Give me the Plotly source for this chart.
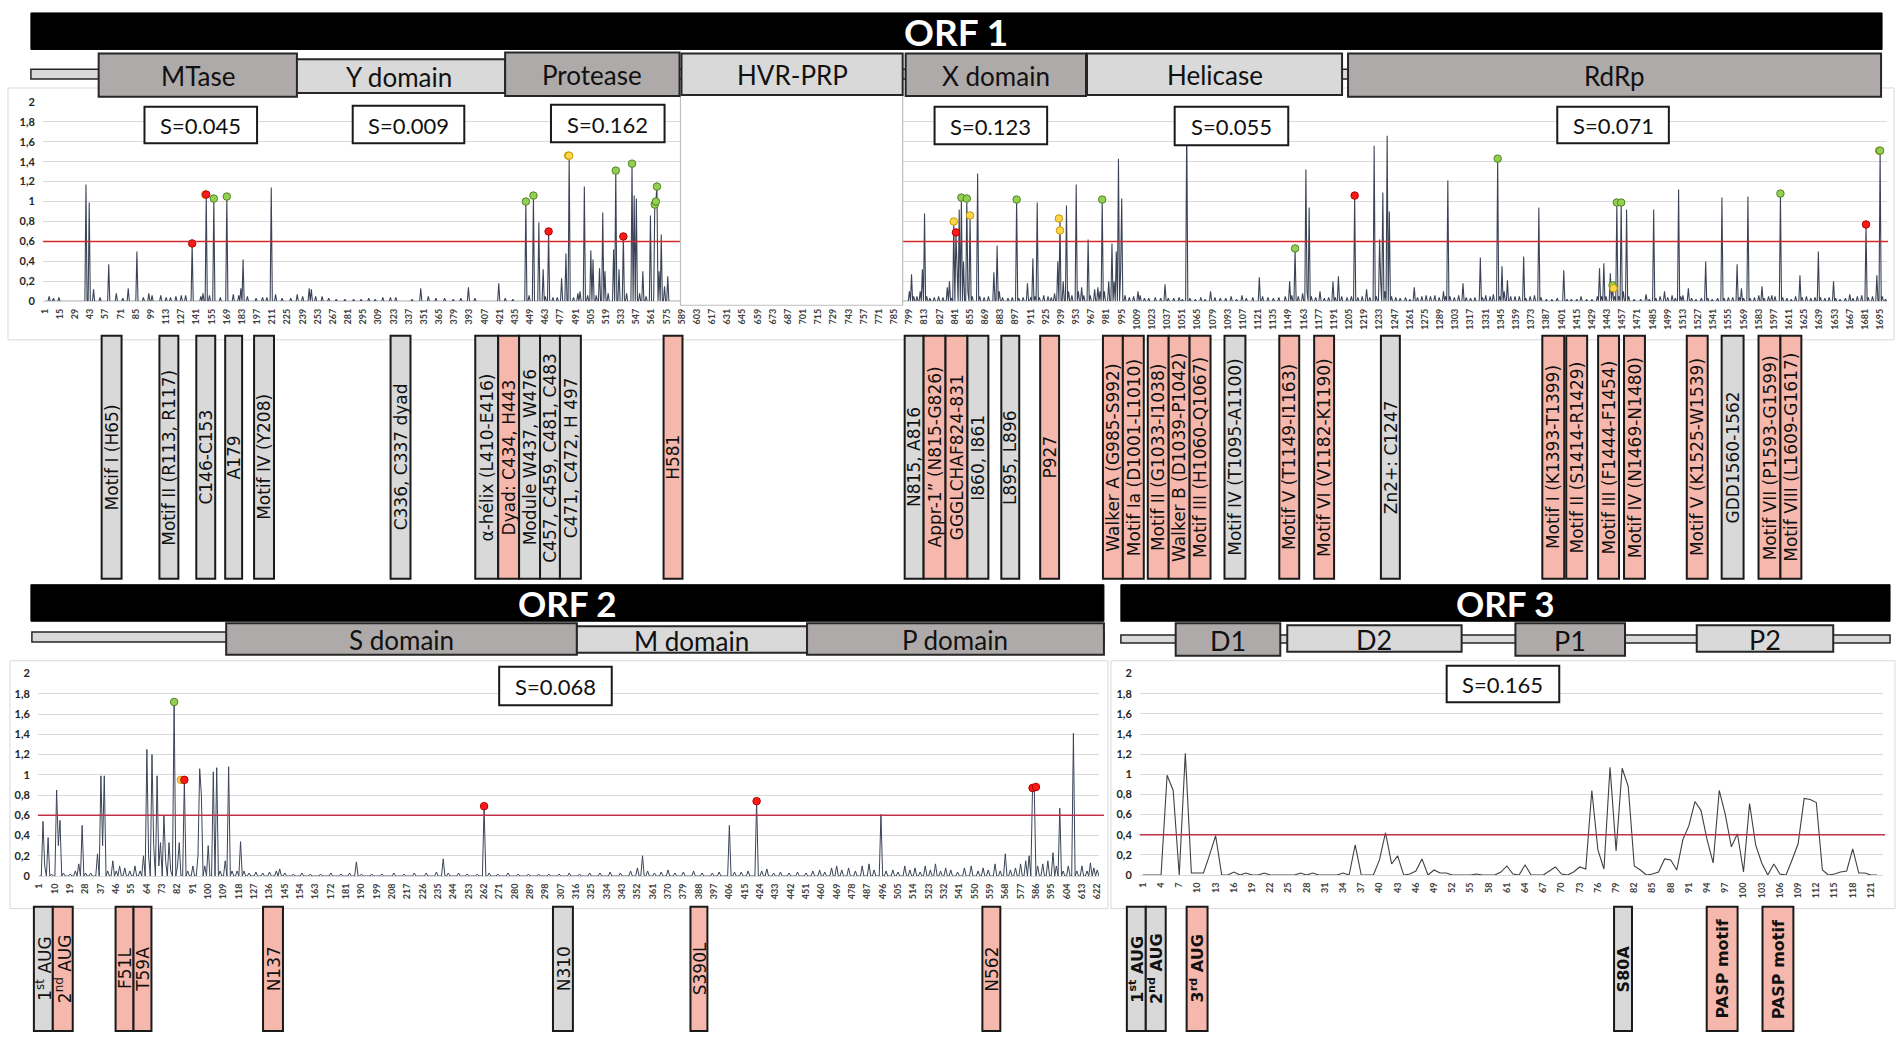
import plotly.graph_objects as go

# ======================= DATA =======================
# ORF1 : residue positions of visible peaks and their heights (rest of the profile ~0)
orf1_len = 1701
orf1_peak_pos = [5, 9, 14, 39, 42, 46, 52, 60, 67, 73, 78, 86, 92, 97, 100, 108, 113, 117, 122, 127, 131, 137,
                 145, 147, 150, 153, 157, 163, 169, 175, 180, 182, 184, 188, 196, 202, 206, 210, 214, 220, 228,
                 234, 239, 245, 247, 251, 257, 263, 270, 278, 286, 293, 300, 306, 313, 320, 325, 340, 348, 355,
                 362, 370, 378, 385, 392, 398, 420, 426, 433,
                 445, 448, 452, 457, 461, 463, 466, 470, 474, 478, 482, 485, 489, 493, 495, 499, 502, 505, 507,
                 510, 513, 516, 518, 521, 526, 528, 531, 535, 538, 543, 545, 547, 550, 553, 556, 560, 564, 565,
                 566, 568, 570, 573, 576,
                 799, 801, 803, 806, 809, 811, 813, 815, 818, 822, 826, 830, 834, 836, 838, 840, 842, 843, 845,
                 847, 849, 852, 853, 855, 857, 862, 864, 868, 872, 877, 880, 882, 885, 890, 894, 898, 900, 904,
                 908, 911, 913, 915, 917, 919, 923, 927, 930, 933, 936, 938, 941, 944, 946, 949, 953, 955, 958,
                 960, 964, 966, 970, 973, 975, 977, 979, 983, 986, 988, 990, 992, 994, 995, 998, 1002, 1006,
                 1010, 1012, 1016, 1020, 1026, 1031, 1035, 1038, 1043, 1048, 1051, 1055, 1058, 1063, 1068,
                 1072, 1077, 1081, 1086, 1091, 1096, 1101, 1106, 1110, 1116, 1122, 1125, 1130, 1135, 1140,
                 1146, 1150, 1152, 1155, 1158, 1162, 1165, 1166, 1168, 1170, 1174, 1178, 1182, 1186, 1190,
                 1192, 1195, 1198, 1203, 1207, 1210, 1213, 1217, 1221, 1224, 1228, 1230, 1233, 1234, 1236,
                 1238, 1240, 1242, 1244, 1248, 1252, 1257, 1261, 1265, 1268, 1272, 1276, 1280, 1284, 1288,
                 1292, 1294, 1296, 1298, 1302, 1306, 1310, 1313, 1317, 1321, 1326, 1328, 1331, 1335, 1338,
                 1342, 1344, 1346, 1348, 1351, 1354, 1358, 1362, 1366, 1368, 1372, 1376, 1380, 1382, 1387,
                 1392, 1397, 1403, 1406, 1410, 1415, 1419, 1424, 1429, 1434, 1436, 1438, 1440, 1442, 1446,
                 1448, 1450, 1452, 1454, 1456, 1458, 1461, 1463, 1468, 1474, 1479, 1482, 1486, 1488, 1492,
                 1496, 1499, 1503, 1506, 1509, 1511, 1513, 1518, 1521, 1525, 1530, 1534, 1536, 1540, 1545,
                 1549, 1551, 1555, 1559, 1563, 1565, 1567, 1569, 1573, 1575, 1579, 1583, 1586, 1588, 1592,
                 1595, 1598, 1603, 1605, 1609, 1613, 1617, 1621, 1623, 1627, 1631, 1635, 1638, 1640, 1644,
                 1648, 1652, 1654, 1658, 1663, 1667, 1670, 1674, 1678, 1682, 1684, 1688, 1692, 1695, 1697, 1700]
orf1_peak_val = [0.05, 0.03, 0.04, 1.17, 0.99, 0.12, 0.04, 0.37, 0.08, 0.03, 0.13, 0.50, 0.04, 0.08, 0.06, 0.06,
                 0.04, 0.04, 0.05, 0.06, 0.06, 0.58,
                 0.05, 0.08, 1.07, 0.06, 1.03, 0.04, 1.05, 0.07, 0.06, 0.13, 0.42, 0.05, 0.03, 0.04, 0.04, 1.14,
                 0.07, 0.03, 0.03, 0.07, 0.05, 0.13, 0.12, 0.05, 0.05, 0.03, 0.02, 0.02, 0.02, 0.02, 0.03, 0.02,
                 0.04, 0.04, 0.04, 0.02, 0.13, 0.05, 0.03, 0.03, 0.02, 0.03, 0.14, 0.03, 0.18, 0.03, 0.02,
                 1.00, 0.06, 1.06, 0.79, 0.32, 0.05, 0.70, 0.04, 0.04, 0.23, 0.48, 1.46, 0.04, 0.08, 0.10, 1.15,
                 0.06, 0.51, 0.42, 0.06, 0.33, 0.89, 0.30, 0.08, 0.52, 1.31, 0.32, 0.65, 0.08, 1.38, 1.06, 1.03,
                 0.08, 0.30, 0.05, 0.86, 0.97, 1.00, 1.15, 0.30, 0.67, 0.15, 0.25,
                 0.10, 0.27, 0.05, 0.05, 0.10, 0.32, 0.88, 0.05, 0.03, 0.04, 0.05, 0.04, 0.14, 0.20, 0.03, 0.80,
                 0.69, 0.35, 0.92, 1.04, 0.40, 1.03, 0.10, 0.86, 0.05, 1.28, 0.05, 0.04, 0.05, 0.29, 0.56, 0.10,
                 0.04, 0.03, 0.04, 1.02, 0.03, 0.04, 0.18, 0.04, 0.43, 0.05, 0.99, 0.04, 0.06, 0.05, 0.04, 0.08,
                 0.40, 0.83, 0.20, 0.96, 0.10, 0.06, 1.17, 0.10, 0.14, 0.06, 0.62, 0.06, 0.12, 0.14, 0.10, 1.02,
                 0.10, 0.20, 0.58, 0.20, 0.50, 1.43, 0.30, 1.03, 0.06, 0.04, 0.05, 0.10, 0.06, 0.03, 0.03, 0.04,
                 0.03, 0.17, 0.03, 0.03, 0.04, 0.02, 1.82, 0.03, 0.02, 0.04, 0.02, 0.10, 0.04, 0.03, 0.03, 0.05,
                 0.02, 0.06, 0.03, 0.04, 0.24, 0.05, 0.04, 0.03, 0.04, 0.05, 0.20, 0.06, 0.53, 0.05, 0.08, 1.32,
                 0.10, 0.94, 0.05, 0.04, 0.10, 0.03, 0.04, 0.20, 0.04, 0.25, 0.05, 0.04, 0.05, 1.06, 0.04, 0.05,
                 0.12, 0.04, 1.56, 0.05, 0.62, 0.20, 1.09, 0.10, 1.66, 0.90, 0.05, 0.04, 0.03, 0.04, 0.02, 0.14,
                 0.04, 0.05, 0.06, 0.05, 0.06, 0.04, 0.10, 0.05, 1.21, 0.05, 0.04, 0.06, 0.18, 0.04, 0.03, 0.04,
                 0.44, 0.04, 0.06, 0.05, 0.07, 1.43, 0.05, 0.35, 0.10, 0.21, 0.05, 0.05, 0.05, 0.45, 0.03, 0.05,
                 0.06, 0.94, 0.04, 0.02, 0.02, 0.03, 0.31, 0.02, 0.02, 0.02, 0.05, 0.02, 0.02, 0.05, 0.33, 0.05,
                 0.38, 0.05, 0.28, 0.16, 0.05, 0.99, 0.05, 0.99, 0.10, 0.92, 0.05, 0.02, 0.02, 0.07, 0.02, 0.92,
                 0.03, 0.05, 0.10, 0.04, 0.06, 0.03, 1.12, 0.05, 0.06, 0.13, 0.03, 0.02, 0.03, 0.40, 0.03, 0.02,
                 0.03, 1.04, 0.03, 0.04, 0.04, 0.37, 0.04, 0.13, 0.03, 1.05, 0.03, 0.04, 0.06, 0.15, 0.03, 0.05,
                 0.06, 0.05, 1.08, 0.04, 0.03, 0.02, 0.05, 0.26, 0.04, 0.05, 0.03, 0.04, 0.50, 0.04, 0.03, 0.04,
                 0.20, 0.03, 0.02, 0.03, 0.07, 0.03, 0.05, 0.06, 0.77, 0.04, 0.05, 0.26, 1.51, 0.05, 0.02]
orf1_ticks = list(range(1, 1696, 14))
orf1_mk_pos = [137, 149, 150, 157, 169, 445, 452, 466, 484, 485, 528, 535, 543, 564, 565, 566, 840, 842, 847,
               852, 855, 898, 937, 938, 977, 1054, 1055, 1155, 1210, 1342, 1448, 1449, 1452, 1456, 1603, 1682,
               1694, 1695]
orf1_mk_val = [0.58, 1.07, 1.07, 1.03, 1.05, 1.00, 1.06, 0.70, 1.46, 1.46, 1.31, 0.65, 1.38, 0.97, 1.00, 1.15,
               0.80, 0.69, 1.04, 1.03, 0.86, 1.02, 0.83, 0.71, 1.02, 1.82, 1.82, 0.53, 1.06, 1.43, 0.16, 0.13,
               0.99, 0.99, 1.08, 0.77, 1.51, 1.51]
orf1_mk_kind = ['r', 'y', 'r', 'g', 'g', 'g', 'g', 'r', 'y', 'y', 'g', 'r', 'g', 'g', 'g', 'g', 'y', 'r', 'g',
                'g', 'y', 'g', 'y', 'y', 'g', 'r', 'y', 'g', 'r', 'g', 'g', 'y', 'g', 'g', 'g', 'r', 'y', 'g']
orf1_threshold = 0.6
orf1_domains = ["MTase", "Y domain", "Protease", "HVR-PRP", "X domain", "Helicase", "RdRp"]
orf1_domain_kind = ['d', 'l', 'd', 'l', 'd', 'l', 'd']
orf1_S = ["S=0.045", "S=0.009", "S=0.162", "S=0.123", "S=0.055", "S=0.071"]
orf1_labels = ["Motif I (H65)", "Motif II (R113, R117)", "C146-C153", "A179", "Motif IV (Y208)",
               "C336, C337 dyad", "α-hélix (L410-E416)", "Dyad: C434, H443", "Module W437, W476",
               "C457, C459, C481, C483", "C471, C472, H 497", "H581",
               "N815, A816", "Appr-1” (N815-G826)", "GGGLCHAF824-831", "I860, I861", "L895, L896", "P927",
               "Walker A (G985-S992)", "Motif Ia (D1001-L1010)", "Motif II (G1033-I1038)",
               "Walker B (D1039-P1042)", "Motif III (H1060-Q1067)", "Motif IV (T1095-A1100)",
               "Motif V (T1149-I1163)", "Motif VI (V1182-K1190)", "Zn2+: C1247",
               "Motif I (K1393-T1399)", "Motif II (S1414-R1429)", "Motif III (F1444-F1454)",
               "Motif IV (N1469-N1480)", "Motif V (K1525-W1539)", "GDD1560-1562",
               "Motif VII (P1593-G1599)", "Motif VIII (L1609-G1617)"]
orf1_label_kind = ['g', 'g', 'g', 'g', 'g', 'g', 'g', 's', 'g', 'g', 'g', 's',
                   'g', 's', 's', 'g', 'g', 's', 's', 's', 's', 's', 's', 'g', 's', 's', 'g',
                   's', 's', 's', 's', 's', 'g', 's', 's']

# ORF2
orf2_len = 623
orf2_peak_pos = [3, 4, 6, 8, 11, 12, 13, 15, 19, 22, 24, 26, 28, 31, 35, 37, 38, 39, 41, 44, 46, 48, 51, 54, 57,
                 60, 62, 64, 65, 67, 68, 70, 71, 72, 74, 75, 77, 78, 80, 82, 83, 86, 88, 91, 94, 95, 96, 98,
                 100, 103, 105, 107, 110, 112, 114, 117, 119, 121, 124, 128, 132, 136, 140, 142, 145, 150,
                 155, 160, 166, 172, 178, 183, 187, 190, 196, 202, 209, 215, 221, 228, 234, 238, 241, 247,
                 252, 258, 262, 265, 270, 276, 282, 288, 294, 300, 306, 312, 318, 324, 330, 336, 342, 348,
                 352, 355, 358, 362, 366, 370, 374, 379, 385, 390, 396, 400, 406, 409, 413, 417, 422, 425,
                 428, 432, 436, 441, 446, 451, 455, 459, 462, 466, 469, 472, 476, 480, 484, 488, 491, 495,
                 498, 502, 505, 509, 512, 515, 518, 521, 524, 527, 530, 533, 536, 540, 544, 548, 552, 555,
                 558, 562, 565, 568, 571, 574, 577, 580, 582, 584, 585, 587, 590, 593, 596, 598, 600, 602,
                 605, 608, 610, 613, 616, 618, 620, 622]
orf2_peak_val = [0.54, 0.10, 0.38, 0.02, 0.85, 0.30, 0.55, 0.03, 0.02, 0.05, 0.12, 0.50, 0.03, 0.03, 0.22, 0.99,
                 0.30, 0.99, 0.05, 0.15, 0.05, 0.10, 0.08, 0.05, 0.10, 0.05, 0.20, 1.25, 0.20, 1.20, 0.30,
                 0.99, 0.10, 0.33, 0.60, 0.15, 0.33, 0.05, 1.72, 0.10, 0.33, 0.95, 0.05, 0.10, 0.20, 1.06,
                 0.80, 0.10, 0.30, 1.03, 1.07, 0.05, 0.15, 1.08, 0.05, 0.05, 0.34, 0.05, 0.03, 0.04, 0.03,
                 0.04, 0.05, 0.07, 0.03, 0.02, 0.03, 0.02, 0.02, 0.03, 0.02, 0.03, 0.14, 0.02, 0.02, 0.02,
                 0.03, 0.02, 0.03, 0.03, 0.04, 0.17, 0.03, 0.03, 0.02, 0.02, 0.69, 0.03, 0.02, 0.03, 0.02,
                 0.02, 0.02, 0.02, 0.02, 0.03, 0.02, 0.03, 0.03, 0.04, 0.03, 0.05, 0.08, 0.20, 0.05, 0.03,
                 0.04, 0.06, 0.03, 0.04, 0.05, 0.03, 0.03, 0.04, 0.50, 0.04, 0.04, 0.05, 0.74, 0.05, 0.07,
                 0.03, 0.04, 0.03, 0.04, 0.03, 0.05, 0.06, 0.04, 0.08, 0.10, 0.06, 0.08, 0.05, 0.10, 0.12,
                 0.06, 0.61, 0.05, 0.06, 0.04, 0.10, 0.06, 0.08, 0.04, 0.10, 0.06, 0.12, 0.05, 0.08, 0.06,
                 0.04, 0.08, 0.10, 0.05, 0.08, 0.06, 0.12, 0.05, 0.22, 0.06, 0.08, 0.12, 0.15, 0.20, 0.87,
                 0.88, 0.10, 0.12, 0.15, 0.23, 0.10, 0.67, 0.05, 0.10, 1.41, 0.05, 0.10, 0.05, 0.13, 0.08,
                 0.06]
orf2_ticks = list(range(1, 623, 9))
orf2_mk_pos = [80, 84, 86, 262, 422, 584, 586]
orf2_mk_val = [1.72, 0.95, 0.95, 0.69, 0.74, 0.87, 0.88]
orf2_mk_kind = ['g', 'y', 'r', 'r', 'r', 'r', 'r']
orf2_threshold = 0.6
orf2_domains = ["S domain", "M domain", "P domain"]
orf2_domain_kind = ['d', 'l', 'd']
orf2_S = "S=0.068"
orf2_labels = ["1<sup>st</sup> AUG", "2<sup>nd</sup> AUG", "F51L", "T59A", "N137", "N310", "S390L", "N562"]
orf2_label_kind = ['g', 's', 's', 's', 's', 'g', 's', 's']

# ORF3 : every residue
orf3_pos = list(range(1, 123))
orf3_val = [0, 0, 0, 0, 0.99, 0.84, 0, 1.21, 0.02, 0.02, 0.02, 0.20, 0.39, 0, 0, 0.03, 0, 0.02, 0, 0,
            0.02, 0, 0, 0, 0, 0, 0.02, 0, 0.02, 0, 0, 0, 0, 0.02, 0, 0.30, 0, 0, 0, 0.15,
            0.42, 0.11, 0.19, 0, 0.01, 0.04, 0.16, 0, 0.05, 0.02, 0.02, 0, 0, 0, 0, 0.01, 0, 0, 0, 0.03,
            0.09, 0.01, 0, 0.10, 0, 0, 0, 0.04, 0.08, 0.01, 0, 0.03, 0.08, 0.06, 0.84, 0.25, 0.06, 1.07, 0.24, 1.06,
            0.88, 0.09, 0.05, 0, 0.01, 0.03, 0.16, 0.15, 0.05, 0.35, 0.49, 0.73, 0.64, 0.35, 0.12, 0.84, 0.60, 0.28, 0.41, 0.03,
            0.71, 0.30, 0.12, 0, 0.11, 0.01, 0, 0.15, 0.31, 0.76, 0.75, 0.72, 0.05, 0, 0.01, 0.03, 0.04, 0.26, 0.02, 0.02,
            0, 0]
orf3_ticks = list(range(1, 122, 3))
orf3_threshold = 0.4
orf3_domains = ["D1", "D2", "P1", "P2"]
orf3_domain_kind = ['d', 'l', 'd', 'l']
orf3_S = "S=0.165"
orf3_labels = ["1<sup>st</sup> AUG", "2<sup>nd</sup> AUG", "3<sup>rd</sup> AUG", "S80A", "PASP motif", "PASP motif"]
orf3_label_kind = ['g', 'g', 's', 'g', 's', 's']

y_ticks = [0, 0.2, 0.4, 0.6, 0.8, 1.0, 1.2, 1.4, 1.6, 1.8, 2.0]
y_ticktext = ["0", "0,2", "0,4", "0,6", "0,8", "1", "1,2", "1,4", "1,6", "1,8", "2"]

# ======================= LAYOUT / STYLE =======================
W, H = 1902, 1043


def px(x):
    return x / W


def py(y):
    return 1 - y / H


FILL = {'d': '#aeaaaa', 'l': '#d9d9d9', 'g': '#d9d9d9', 's': '#f6b8ac'}
MK_FILL = {'g': '#92d050', 'y': '#ffd54a', 'r': '#ff1a1a'}
MK_LINE = {'g': '#557f2a', 'y': '#c49a00', 'r': '#b00000'}
LINE_COL = '#3b4457'
GRID = '#d9d9d9'
TXT = '#111111'
FONT = 'Lato, Open Sans, sans-serif'
LFONT = 'DejaVu Sans, Verdana, sans-serif'

shapes = []
annots = []


def rect(x0, y0, x1, y1, fill, line='#262626', lw=2, layer='above'):
    shapes.append(dict(type='rect', xref='paper', yref='paper', x0=px(x0), x1=px(x1), y0=py(y1), y1=py(y0),
                       fillcolor=fill, line=dict(color=line, width=lw), layer=layer))


def text(x, y, s, size, color=TXT, bold=False, family=FONT, angle=0):
    annots.append(dict(xref='paper', yref='paper', x=px(x), y=py(y), text=s, showarrow=False,
                       xanchor='center', yanchor='middle', textangle=angle,
                       font=dict(family=family, size=size, color=color, weight='bold' if bold else 'normal')))


fig = go.Figure()

# ---- panels (light frames) ----
rect(4, 82, 1897, 337, 'rgba(0,0,0,0)', line='#d9d9d9', lw=1, layer='below')
rect(6, 662, 1108, 913, 'rgba(0,0,0,0)', line='#d9d9d9', lw=1, layer='below')
rect(1111, 662, 1898, 913, 'rgba(0,0,0,0)', line='#d9d9d9', lw=1, layer='below')

# ---- traces ----
orf1_x = list(range(1, orf1_len + 1))
orf1_y = [0.0] * orf1_len
for p, v in zip(orf1_peak_pos, orf1_peak_val):
    orf1_y[p - 1] = v
orf2_x = list(range(1, orf2_len + 1))
orf2_y = [0.0] * orf2_len
for p, v in zip(orf2_peak_pos, orf2_peak_val):
    orf2_y[p - 1] = v

fig.add_trace(go.Scatter(x=orf1_x, y=orf1_y, mode='lines', line=dict(color=LINE_COL, width=1.1),
                         xaxis='x', yaxis='y', hoverinfo='skip', showlegend=False))
fig.add_trace(go.Scatter(x=orf1_mk_pos, y=orf1_mk_val, mode='markers',
                         marker=dict(size=7.5, color=[MK_FILL[k] for k in orf1_mk_kind],
                                     line=dict(color=[MK_LINE[k] for k in orf1_mk_kind], width=1)),
                         xaxis='x', yaxis='y', hoverinfo='skip', showlegend=False))
fig.add_trace(go.Scatter(x=orf2_x, y=orf2_y, mode='lines', line=dict(color=LINE_COL, width=1.0),
                         xaxis='x2', yaxis='y2', hoverinfo='skip', showlegend=False))
fig.add_trace(go.Scatter(x=orf2_mk_pos, y=orf2_mk_val, mode='markers',
                         marker=dict(size=7.5, color=[MK_FILL[k] for k in orf2_mk_kind],
                                     line=dict(color=[MK_LINE[k] for k in orf2_mk_kind], width=1)),
                         xaxis='x2', yaxis='y2', hoverinfo='skip', showlegend=False))
fig.add_trace(go.Scatter(x=orf3_pos, y=orf3_val, mode='lines', line=dict(color='#404040', width=1.1),
                         xaxis='x3', yaxis='y3', hoverinfo='skip', showlegend=False))


def xaxis(dom, rng, ticks, anchor):
    return dict(domain=[px(dom[0]), px(dom[1])], range=rng, anchor=anchor, tickmode='array',
                tickvals=ticks, ticktext=[str(t) for t in ticks], tickangle=-90,
                tickfont=dict(family=FONT, size=9, color='#404040', weight='bold'),
                showgrid=False, zeroline=False, showline=True, linecolor=GRID, linewidth=1,
                ticks='', ticklabelstandoff=3, fixedrange=True)


def yaxis(dom, anchor):
    return dict(domain=[py(dom[1]), py(dom[0])], range=[0, 2.0], anchor=anchor, tickmode='array',
                tickvals=y_ticks, ticktext=y_ticktext, showgrid=True, gridcolor=GRID, gridwidth=1,
                zeroline=False, showline=False, ticks='',
                tickfont=dict(family=FONT, size=11, color='#262626', weight='bold'),
                ticklabelstandoff=7, fixedrange=True)


# ---- threshold lines ----
shapes.append(dict(type='line', xref='paper', yref='y', x0=px(39), x1=px(1891), y0=orf1_threshold,
                   y1=orf1_threshold, line=dict(color='#d42a2a', width=1.4), layer='above'))
shapes.append(dict(type='line', xref='paper', yref='y2', x0=px(34), x1=px(1104), y0=orf2_threshold,
                   y1=orf2_threshold, line=dict(color='#c0304a', width=1.4), layer='above'))
shapes.append(dict(type='line', xref='paper', yref='y3', x0=px(1140), x1=px(1888), y0=orf3_threshold,
                   y1=orf3_threshold, line=dict(color='#c0304a', width=1.4), layer='above'))

# HVR-PRP blank region in the ORF1 chart
rect(679, 89, 902, 302, 'white', line='#bfbfbf', lw=1.2)

# ---- black title bars ----
rect(27, 6, 1885, 43, 'black', line='black', lw=1)
text(956, 25, 'ORF 1', 37, color='white', bold=True)
rect(27, 585, 1104, 622, 'black', line='black', lw=1)
text(566, 604, 'ORF 2', 35, color='white', bold=True)
rect(1121, 585, 1893, 622, 'black', line='black', lw=1)
text(1507, 604, 'ORF 3', 35, color='white', bold=True)

# ---- domain rows ----
rect(27, 63, 1884, 73, '#d9d9d9', lw=1.5)
orf1_dom_box = [(95, 47, 294, 91), (289, 53, 503, 87), (503, 46, 678, 90), (680, 47, 902, 89),
                (905, 47, 1086, 90), (1087, 47, 1343, 89), (1349, 47, 1884, 91)]
order = [1, 0, 2, 3, 4, 5, 6]
for i in order:
    x0, y0, x1, y1 = orf1_dom_box[i]
    rect(x0, y0, x1, y1, FILL[orf1_domain_kind[i]], lw=2)
    text((x0 + x1) / 2, (y0 + y1) / 2 + 1, orf1_domains[i], 26)

rect(28, 633, 1104, 643, '#d9d9d9', lw=1.5)
orf2_dom_box = [(223, 624, 575, 656), (575, 627, 806, 654), (806, 624, 1104, 656)]
for i, (x0, y0, x1, y1) in enumerate(orf2_dom_box):
    rect(x0, y0, x1, y1, FILL[orf2_domain_kind[i]], lw=2)
    text((x0 + x1) / 2, (y0 + y1) / 2 + 1, orf2_domains[i], 26)

rect(1121, 636, 1893, 644, '#d9d9d9', lw=1.5)
orf3_dom_box = [(1176, 624, 1281, 657), (1288, 626, 1463, 653), (1517, 624, 1627, 657), (1699, 626, 1836, 653)]
for i, (x0, y0, x1, y1) in enumerate(orf3_dom_box):
    rect(x0, y0, x1, y1, FILL[orf3_domain_kind[i]], lw=2)
    text((x0 + x1) / 2, (y0 + y1) / 2 + 1, orf3_domains[i], 27)

# ---- S boxes ----
orf1_S_box = [(141, 101, 254, 138), (350, 100, 462, 138), (549, 99, 663, 137), (934, 101, 1047, 139),
              (1175, 101, 1289, 140), (1559, 101, 1671, 138)]
for s, (x0, y0, x1, y1) in zip(orf1_S, orf1_S_box):
    rect(x0, y0, x1, y1, 'white', line='#1a1a1a', lw=2)
    text((x0 + x1) / 2, (y0 + y1) / 2 + 1, s, 22)
rect(497, 668, 610, 707, 'white', line='#1a1a1a', lw=2)
text(553.5, 688, orf2_S, 22)
rect(1448, 667, 1561, 704, 'white', line='#1a1a1a', lw=2)
text(1504.5, 686, orf3_S, 22)

# ---- vertical feature labels ----
orf1_label_x = [(98, 118), (156, 175), (193, 212), (222, 239), (251, 271), (388, 408), (473, 496), (496, 517),
                (517, 538), (538, 558), (558, 579), (662, 681), (904, 923), (923, 945), (945, 967), (967, 988),
                (1001, 1019), (1040, 1059), (1103, 1123), (1123, 1144), (1148, 1169), (1169, 1190),
                (1190, 1211), (1225, 1246), (1280, 1300), (1315, 1335), (1382, 1401), (1544, 1566),
                (1568, 1589), (1600, 1621), (1626, 1647), (1689, 1710), (1724, 1746), (1761, 1783),
                (1783, 1804)]
for lab, kind, (x0, x1) in zip(orf1_labels, orf1_label_kind, orf1_label_x):
    rect(x0, 333, x1, 579, FILL[kind], line='#1a1a1a', lw=2)
    text((x0 + x1) / 2 + 0.5, 456, lab, 17, family=LFONT, angle=-90)

orf2_label_x = [(30, 49), (49, 69), (112, 130), (130, 148), (260, 280), (551, 571), (689, 706), (982, 1000)]
for lab, kind, (x0, x1) in zip(orf2_labels, orf2_label_kind, orf2_label_x):
    rect(x0, 911, x1, 1037, FILL[kind], line='#1a1a1a', lw=2)
    text((x0 + x1) / 2 + 0.5, 974, lab, 17, family=LFONT, angle=-90)

orf3_label_x = [(1127, 1146), (1146, 1166), (1187, 1208), (1616, 1634), (1709, 1740), (1765, 1796)]
for lab, kind, (x0, x1) in zip(orf3_labels, orf3_label_kind, orf3_label_x):
    rect(x0, 911, x1, 1037, FILL[kind], line='#1a1a1a', lw=2)
    text((x0 + x1) / 2 + 0.5, 974, lab, 16, family=LFONT, bold=True, angle=-90)

fig.update_layout(
    width=W, height=H, margin=dict(l=0, r=0, t=0, b=0), autosize=False,
    paper_bgcolor='white', plot_bgcolor='rgba(0,0,0,0)', showlegend=False,
    xaxis=xaxis((39, 1890), [-0.8, 1701.4], orf1_ticks, 'y'),
    yaxis=yaxis((96, 298), 'x'),
    xaxis2=xaxis((34, 1099), [0, 623], orf2_ticks, 'y2'),
    yaxis2=yaxis((675, 880), 'x2'),
    xaxis3=xaxis((1140, 1886), [0.5, 123], orf3_ticks, 'y3'),
    yaxis3=yaxis((675, 879), 'x3'),
    shapes=shapes, annotations=annots,
)

fig.write_html("out.html", config={'displayModeBar': False},
               post_script="document.body.style.margin='0';document.body.style.overflow='hidden';")
